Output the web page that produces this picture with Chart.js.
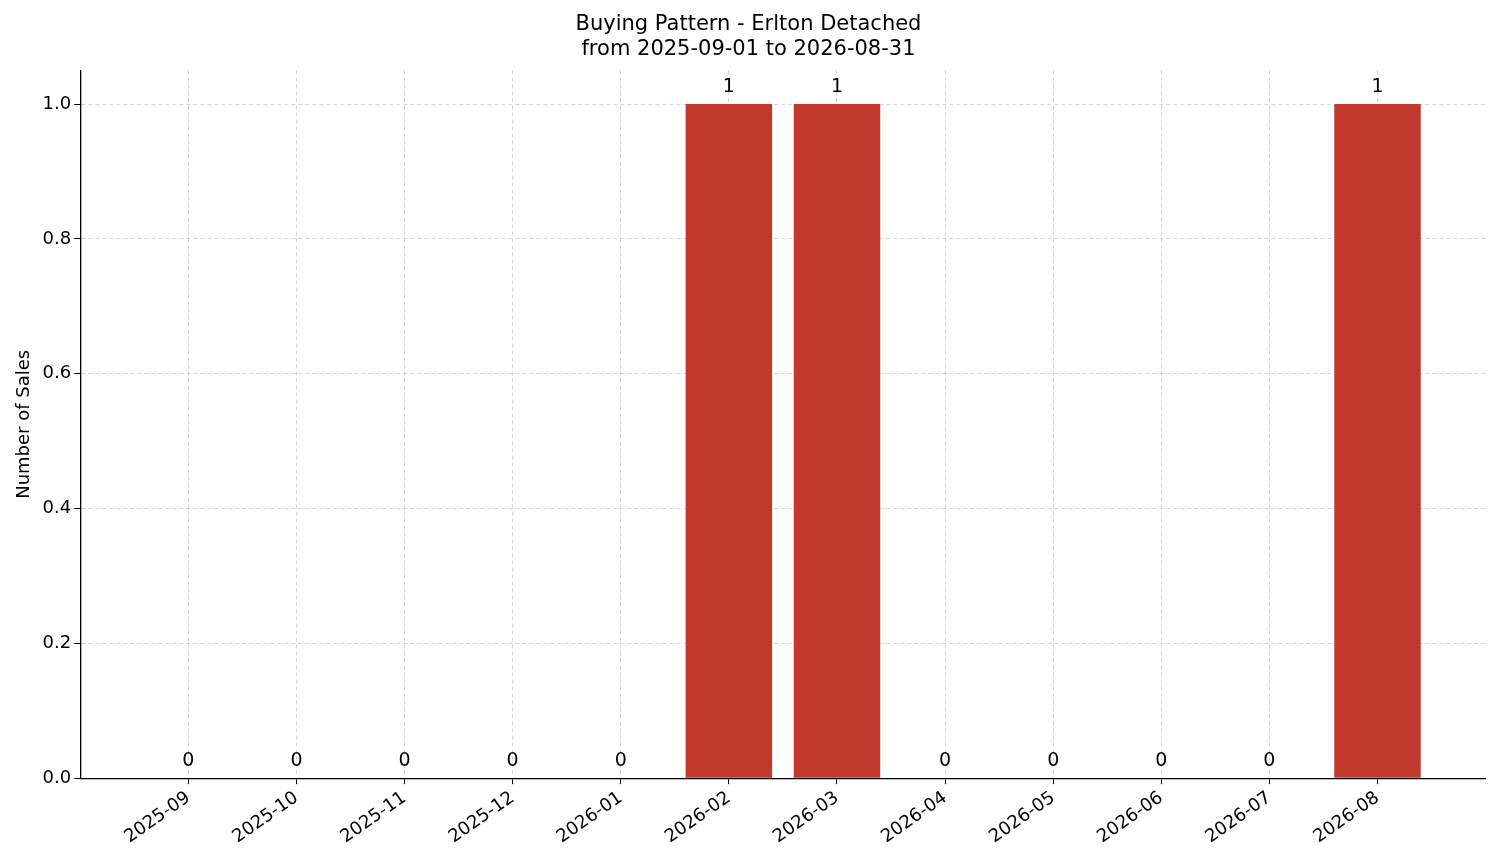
<!DOCTYPE html>
<html><head><meta charset="utf-8">
<script src="https://cdn.jsdelivr.net/npm/chart.js@4/dist/chart.umd.min.js"></script>
<style>html,body{margin:0;padding:0;background:#fff}#wrap{width:1501px;height:863px}</style>
</head><body><div id="wrap"><canvas id="c"></canvas></div>
<script>
const months = ['2025-09','2025-10','2025-11','2025-12','2026-01','2026-02','2026-03','2026-04','2026-05','2026-06','2026-07','2026-08'];
const sales = [0,0,0,0,0,1,1,0,0,0,0,1];
const yTicks = [0,0.2,0.4,0.6,0.8,1.0];
const labels = [''].concat(months).concat(['']);
const data = [null].concat(sales).concat([null]);
const FONT = "'DejaVu Sans', sans-serif";
const valueLabels = {
  id:'valueLabels',
  afterDatasetsDraw(chart){
    const ctx = chart.ctx, meta = chart.getDatasetMeta(0);
    ctx.save(); ctx.fillStyle='#000'; ctx.font='19px '+FONT; ctx.textAlign='center'; ctx.textBaseline='bottom';
    meta.data.forEach((el,i)=>{ if(data[i]===null) return; ctx.fillText(String(data[i]), el.x, el.y-8); });
    ctx.restore();
  }
};
const inner = (c)=> c.index>0 && c.index<labels.length-1;
new Chart(document.getElementById('c'),{
  type:'bar',
  data:{labels, datasets:[{data, backgroundColor:'#c0392b', barPercentage:0.8, categoryPercentage:1}]},
  options:{
    responsive:true, maintainAspectRatio:false, animation:false,
    layout:{padding:{left:10,right:14,top:4,bottom:12}},
    plugins:{legend:{display:false}, tooltip:{enabled:false},
      title:{display:true, text:['Buying Pattern - Erlton Detached','from 2025-09-01 to 2026-08-31'], color:'#000', font:{family:FONT,size:21,weight:'normal'}, padding:{top:8,bottom:8}, lineHeight:1.2}},
    scales:{
      x:{offset:false, border:{color:'#000',width:1.3,dash:[4,3]},
        grid:{offset:false, color:(c)=> inner(c) ? 'rgba(0,0,0,0.16)' : 'rgba(0,0,0,0)', tickColor:(c)=> inner(c)?'#000':'rgba(0,0,0,0)', tickLength:6},
        ticks:{color:'#000', font:{family:FONT,size:18}, maxRotation:35, minRotation:35, autoSkip:false}},
      y:{min:0, max:1.05, border:{color:'#000',width:1.3,dash:[4,3]},
        afterBuildTicks:(ax)=>{ ax.ticks = yTicks.map(v=>({value:v})); },
        grid:{color:'rgba(0,0,0,0.16)', tickColor:'#000', tickLength:6},
        ticks:{color:'#000', font:{family:FONT,size:18}, callback:(v)=>Number(v).toFixed(1)},
        title:{display:true, text:'Number of Sales', color:'#000', font:{family:FONT,size:18}}}
    }
  },
  plugins:[valueLabels]
});
</script></body></html>
